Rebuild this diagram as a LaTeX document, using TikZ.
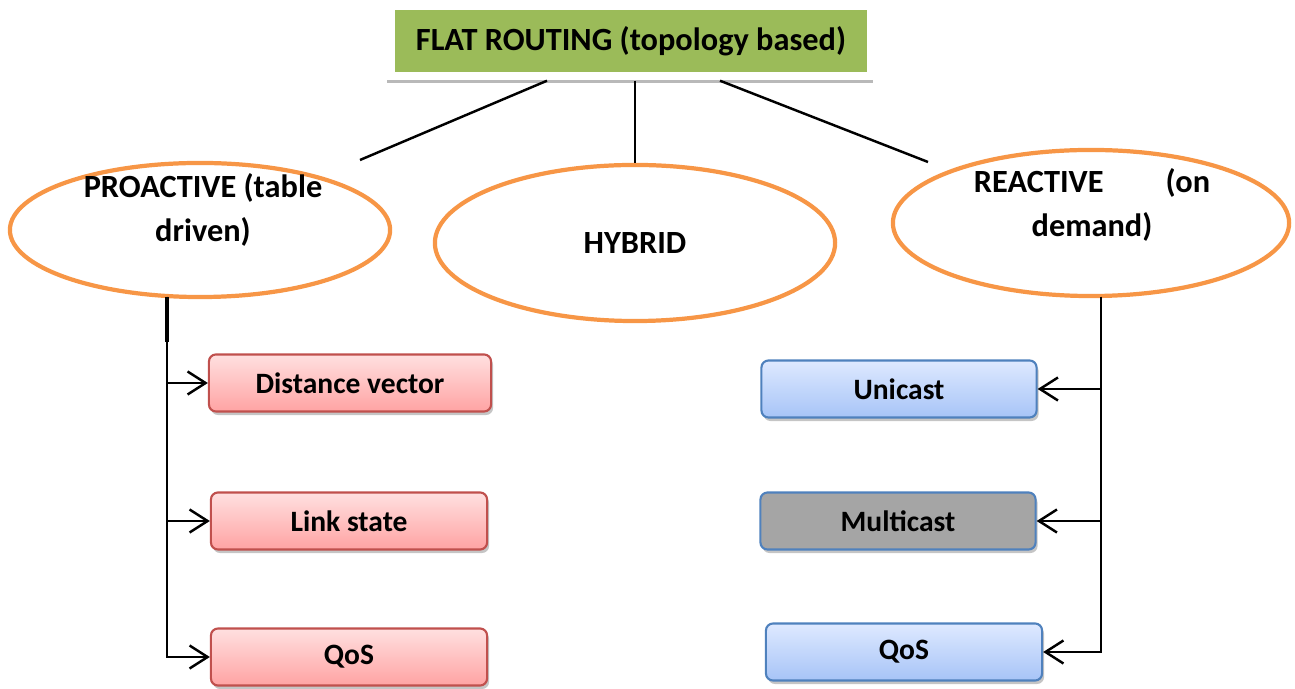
\documentclass[tikz,border=0pt]{standalone}
\usepackage{fontspec}
\setmainfont{Carlito}
\usepackage{xcolor}
\definecolor{leaf}{HTML}{9BBB59}
\definecolor{tang}{HTML}{F79646}
\definecolor{rosetop}{HTML}{FFE0E0}
\definecolor{rosebot}{HTML}{FFA3A3}
\definecolor{roseline}{HTML}{C0504D}
\definecolor{skytop}{HTML}{DFE9FF}
\definecolor{skybot}{HTML}{A6C4F7}
\definecolor{skyline}{HTML}{4F81BD}
\definecolor{slate}{HTML}{A5A5A5}
\usetikzlibrary{positioning,arrows.meta,shapes.geometric,shadows,calc}

\begin{document}
\begin{tikzpicture}[x=0.01cm,y=-0.01cm,
  font=\fontsize{9.2}{12.5}\selectfont\bfseries,
  shade/.style={drop shadow={shadow xshift=0.2mm,shadow yshift=-0.35mm,fill=black!45}},
  ell/.style={ellipse,draw=tang,line width=1.2pt,fill=white},
  etxt/.style={align=center,inner sep=0pt},
  leafbox/.style={rectangle,fill=leaf,minimum width=4.72cm,minimum height=0.61cm,inner sep=0pt},
  tile/.style={rectangle,rounded corners=2pt,line width=0.6pt,minimum width=2.8cm,minimum height=0.57cm,
    inner sep=0pt,font=\fontsize{8.4}{10}\selectfont\bfseries,shade},
  redbox/.style={tile,draw=roseline,top color=rosetop,bottom color=rosebot},
  bluebox/.style={tile,draw=skyline,top color=skytop,bottom color=skybot},
  greybox/.style={tile,draw=skyline,fill=slate},
  lnk/.style={line width=0.7pt},
  arr/.style={lnk,-{Straight Barb[length=1.8mm,width=2.3mm]}},
]
\useasboundingbox (0,0) rectangle (1295,689);

% title on its white card
\node[rectangle,fill=white,minimum width=4.86cm,minimum height=0.72cm,
  drop shadow={shadow xshift=0pt,shadow yshift=-0.25mm,fill=black!55}] (titleback) at (630,44) {};
\node[leafbox] (title) at (631,41) {FLAT ROUTING (topology based)};

% the three families
\node[ell,minimum width=3.8cm,minimum height=1.34cm] (pro) at (200,230) {};
\node[etxt] (protxt) at (203,210) {PROACTIVE (table\\driven)};
\node[ell,minimum width=4cm,minimum height=1.56cm] (hyb) at (635,243) {};
\node[etxt] (hybtxt) at (635,243) {HYBRID};
\node[ell,minimum width=3.96cm,minimum height=1.46cm] (rea) at (1091,223) {};
\node[etxt] (reatxt) at (1092,205) {\makebox[2.36cm][s]{REACTIVE\hfill(on}\\demand)};

\coordinate (proend) at (360,160);
\coordinate (reaend) at (928,162);
\draw[lnk] ($(titleback.south)+(-83,0)$) -- (proend);
\draw[lnk] (titleback.south -| hyb.north) -- (hyb.north);
\draw[lnk] ($(titleback.south)+(90,0)$) -- (reaend);

% proactive branch
\node[redbox,minimum width=2.82cm] (dv) at (350,383) {Distance vector};
\node[redbox,minimum width=2.76cm] (ls) at (349,521) {Link state};
\node[redbox,minimum width=2.76cm] (pqos) at (349,657) {QoS};
\coordinate (ltop) at (167,297);
\draw[lnk,line width=1.2pt] (ltop) -- ++(0,45);
\draw[arr] (ltop) |- (dv.west);
\draw[arr] (ltop) |- (ls.west);
\draw[arr] (ltop) |- (pqos.west);

% reactive branch
\node[bluebox,minimum width=2.75cm] (uni) at (899,389) {Unicast};
\node[greybox,minimum width=2.75cm] (multi) at (898,521) {Multicast};
\node[bluebox,minimum width=2.76cm] (rqos) at (904,652) {QoS};
\coordinate (rtop) at (1101,297);
\draw[arr] (rtop) |- (uni.east);
\draw[arr] (rtop) |- (multi.east);
\draw[arr] (rtop) |- (rqos.east);
\end{tikzpicture}
\end{document}
